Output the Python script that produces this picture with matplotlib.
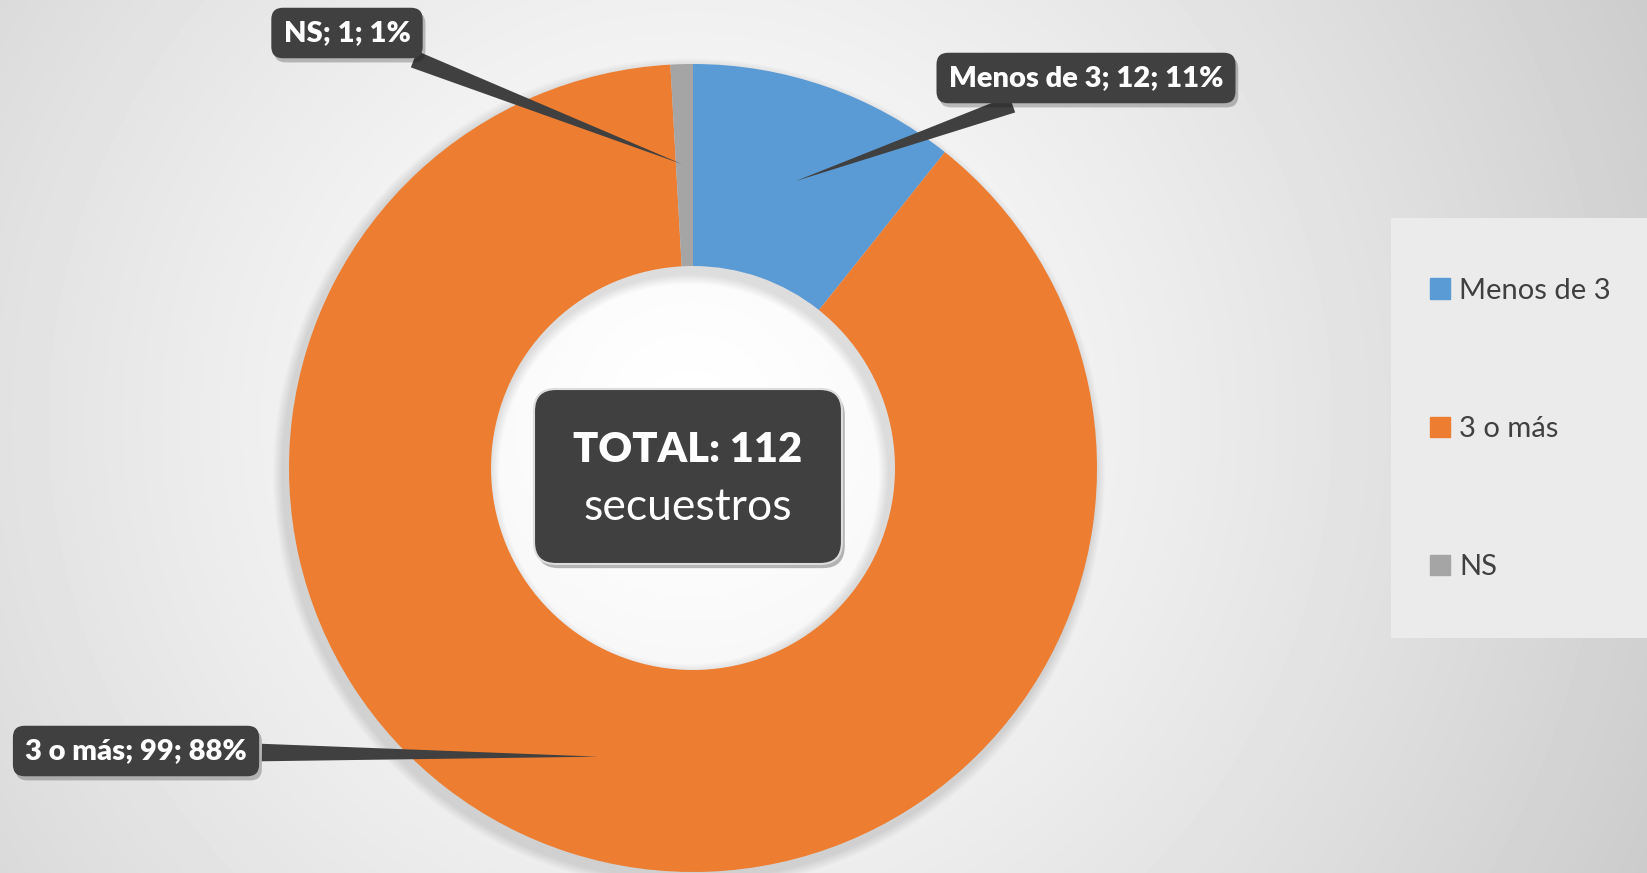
import numpy as np
import matplotlib.pyplot as plt
from matplotlib.patches import FancyBboxPatch, Rectangle, Patch, Wedge
import matplotlib.patheffects as pe

plt.rcParams['font.family'] = ['Lato', 'DejaVu Sans']

# datos
categories = ["Menos de 3", "3 o más", "NS"]
values = [12, 99, 1]
percents = ["11%", "88%", "1%"]
total_title = "TOTAL: 112"
total_sub = "secuestros"
colors = ["#5B9BD5", "#ED7D31", "#A5A5A5"]

# posiciones de las etiquetas (centro de la caja, px desde abajo)
label_pos = [(1086, 795), (136, 122), (347, 840)]

W, H = 1647, 873
cx, cy, R = 693, 405, 404

fig = plt.figure(figsize=(W / 100, H / 100), dpi=100)

# fondo con degradado radial
bg = fig.add_axes([0, 0, 1, 1])
yy, xx = np.mgrid[0:H, 0:W]
d = np.hypot(xx - 690, yy - 420) / 1050
shade = 1 - 0.2 * np.clip(d, 0, 1) ** 1.3
bg.imshow(shade, cmap="gray", vmin=0, vmax=1, aspect="auto", interpolation="bilinear")
bg.axis("off")

ax = fig.add_axes([0, 0, 1, 1])
ax.patch.set_alpha(0)

# sombra suave del anillo (solo el anillo, no el hueco)
for k in range(10):
    ring = Wedge((cx - 4, cy - 6), R + 12 - k, 0, 360, width=R * 0.5 + 24 - 2 * k,
                 color="black", alpha=0.01, lw=0)
    ax.add_patch(ring)

wedges, _ = ax.pie(values, colors=colors, startangle=90, counterclock=False,
                   radius=R, center=(cx, cy),
                   wedgeprops=dict(width=R * 0.5, edgecolor="none"))
ax.set_xlim(0, W)
ax.set_ylim(0, H)
ax.set_aspect("auto")
ax.axis("off")

# etiquetas con flecha tipo cuña
total = sum(values)
cum = np.cumsum(values)
for i, (cat, v, p) in enumerate(zip(categories, values, percents)):
    mid = np.deg2rad(90 - 360 * (cum[i] - v / 2) / total)
    tip = (cx + 0.75 * R * np.cos(mid), cy + 0.75 * R * np.sin(mid))
    ann = ax.annotate(f"{cat}; {v}; {p}", xy=tip, xytext=label_pos[i],
                      ha="center", va="center", color="white", fontsize=21,
                      fontweight="heavy",
                      bbox=dict(boxstyle="round,pad=0.42,rounding_size=0.4",
                                fc="#404040", ec="none"),
                      arrowprops=dict(arrowstyle="wedge,tail_width=0.6,shrink_factor=0.5",
                                      fc="#404040", ec="none"))
    ann.get_bbox_patch().set_path_effects(
        [pe.SimplePatchShadow(offset=(2, -3), alpha=0.25), pe.Normal()])

# caja central
r = 22
box = FancyBboxPatch((534 + r, 309 + r), 308 - 2 * r, 175 - 2 * r,
                     boxstyle=f"round,pad={r}", fc="#404040", ec="#dddddd", lw=1.5)
box.set_path_effects([pe.SimplePatchShadow(offset=(2, -3), alpha=0.3), pe.Normal()])
ax.add_patch(box)
ax.text(688, 423, total_title, ha="center", va="center", color="white",
        fontsize=30, fontweight="heavy")
ax.text(688, 366, total_sub, ha="center", va="center", color="white", fontsize=32)

# leyenda
fig.patches.append(Rectangle((1391 / W, 235 / H), (W - 1391) / W, 420 / H,
                             transform=fig.transFigure, fc="#ebebeb", ec="none",
                             zorder=0.5))
handles = [Patch(color=c) for c in colors]
fig.legend(handles, categories, loc="center left",
           bbox_to_anchor=(1430 / W, 444 / H), frameon=False, fontsize=21,
           labelcolor="#404040", handlelength=0.7, handleheight=0.7,
           handletextpad=0.3, labelspacing=3.85, borderpad=0, borderaxespad=0)

fig.savefig("out.png", dpi=100)
